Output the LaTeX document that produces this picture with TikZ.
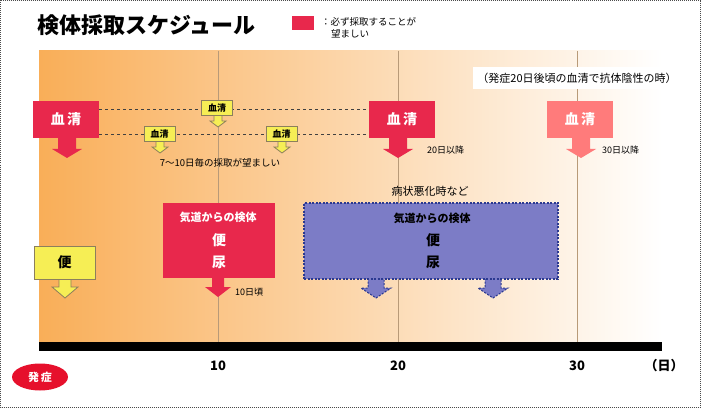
\documentclass[tikz,border=0pt]{standalone}
\usepackage{fontspec}
\setmainfont{Noto Sans CJK JP}
\usetikzlibrary{shapes.geometric}
\definecolor{redc}{HTML}{E8284C}
\definecolor{pinkc}{HTML}{FF7B7B}
\definecolor{yellowc}{HTML}{F6EE55}
\definecolor{yborder}{HTML}{8C7F5C}
\definecolor{bluefill}{HTML}{7C7CC6}
\definecolor{blueborder}{HTML}{2B3990}
\definecolor{orangeL}{HTML}{F9AE58}
\definecolor{orangeM}{HTML}{FDD8A8}
\definecolor{gridc}{HTML}{B89A78}
\definecolor{hatsured}{HTML}{E6102C}
\newcommand{\dnarrow}[7]{%
  \path[#1] ({#2-#6},#3) -- ({#2-#6},#4) -- ({#2-#7},#4) -- (#2,#5) -- ({#2+#7},#4) -- ({#2+#6},#4) -- ({#2+#6},#3) -- cycle;}
\begin{document}
\begin{tikzpicture}[x=1pt,y=-1pt,
  bigred/.style={fill=redc,text=white,font=\bfseries\fontsize{14}{14}\selectfont,minimum width=66pt,minimum height=37pt,inner sep=0pt},
  bigpink/.style={bigred,fill=pinkc},
  smally/.style={fill=yellowc,draw=yborder,line width=1pt,font=\bfseries\fontsize{9}{9}\selectfont,minimum width=31pt,minimum height=15pt,inner sep=0pt},
  yarr/.style={fill=yellowc,draw=yborder,line width=0.8pt},
  rarr/.style={fill=redc},
  parr/.style={fill=pinkc},
  barr/.style={fill=bluefill,draw=blueborder,line width=1pt,dash pattern=on 2pt off 1.5pt},
  note/.style={font=\fontsize{9}{9}\selectfont,text=black,inner sep=0pt},
  gridline/.style={draw=gridc,line width=0.7pt},
  dotline/.style={draw=black!75,line width=0.9pt,dash pattern=on 3pt off 3pt},
  daylabel/.style={font=\bfseries\fontsize{13}{13}\selectfont,inner sep=0pt}
]
\useasboundingbox (0,0) rectangle (702,409);
\draw[black!70,line width=0.6pt,dash pattern=on 1pt off 1pt] (0.5,0.5) rectangle (700.5,407.5);

% background
\shade[left color=orangeL,middle color=orangeM,right color=white] (39,51) rectangle (662,342);
\foreach \x in {218,398,577} \draw[gridline] (\x,51) -- (\x,342);
\fill[black] (39,342) rectangle (662,351);

% title and legend
\node[anchor=west,inner sep=0pt,font=\bfseries\fontsize{22}{22}\selectfont] (title) at (37,25) {検体採取スケジュール};
\node[fill=redc,minimum width=22pt,minimum height=14pt,inner sep=0pt] (leg) at (303,23) {};
\node[anchor=west,inner sep=0pt,font=\fontsize{9.5}{9.5}\selectfont] (legt1) at (321,22) {：必ず採取することが};
\node[anchor=west,inner sep=0pt,font=\fontsize{9.5}{9.5}\selectfont] (legt2) at (331,34) {望ましい};

\node[fill=white,inner xsep=4pt,inner ysep=6pt,font=\fontsize{11}{11}\selectfont] (cond) at (577,78) {（発症20日後頃の血清で抗体陰性の時）};

% arrows (drawn under boxes)
\dnarrow{rarr}{67}{136}{149}{158}{9}{15}
\dnarrow{rarr}{398}{136}{149}{158}{9}{15}
\dnarrow{parr}{581}{136}{149}{158}{9}{15}
\dnarrow{yarr}{218}{114}{121}{127}{4}{8}
\dnarrow{yarr}{160}{140}{147}{153}{4}{8}
\dnarrow{yarr}{282}{140}{147}{153}{4}{8}
\dnarrow{yarr}{65}{277}{287}{298}{6}{13}
\dnarrow{rarr}{218}{276}{287}{297}{6}{13}
\dnarrow{barr}{376}{278}{288}{298}{8}{15}
\dnarrow{barr}{493}{278}{288}{298}{8}{15}

% serum row
\node[bigred] (s1) at (66,119.5) {血\,清};
\node[bigred] (s2) at (402,119.5) {血\,清};
\node[bigpink] (s3) at (580,119.5) {血\,清};
\coordinate (d1) at (0,109);
\coordinate (d2) at (0,134);
\draw[dotline] (s1.east |- d1) -- (s2.west |- d1);
\draw[dotline] (s1.east |- d2) -- (s2.west |- d2);
\node[smally] (y1) at (217,108.5) {血清};
\node[smally] (y2) at (159.5,134.5) {血清};
\node[smally] (y3) at (281.5,134.5) {血清};
\node[note,font=\fontsize{9.5}{9.5}\selectfont] (n710) at (220,163) {7〜10日毎の採取が望ましい};
\node[note,anchor=west] (n20) at (427,150) {20日以降};
\node[note,anchor=west] (n30) at (602,150) {30日以降};

% lower row
\node[fill=yellowc,draw=yborder,line width=1pt,minimum width=61pt,minimum height=33pt,inner sep=0pt,font=\bfseries\fontsize{14}{14}\selectfont] (ben) at (64.5,262.5) {便};
\node[fill=redc,minimum width=112pt,minimum height=75pt,inner sep=0pt] (rbox) at (219,240.5) {};
\node[text=white,font=\bfseries\fontsize{11}{11}\selectfont,inner sep=0pt] (rt1) at (218,217) {気道からの検体};
\node[text=white,font=\bfseries\fontsize{14}{14}\selectfont,inner sep=0pt] (rt2) at (219,240) {便};
\node[text=white,font=\bfseries\fontsize{14}{14}\selectfont,inner sep=0pt] (rt3) at (219,262) {尿};
\node[note,anchor=west] (n10) at (235,292) {10日頃};

\node[fill=bluefill,draw=blueborder,line width=1.1pt,dash pattern=on 2pt off 1.5pt,minimum width=254pt,minimum height=76pt,inner sep=0pt] (bbox) at (431,241) {};
\node[font=\bfseries\fontsize{11}{11}\selectfont,inner sep=0pt] (bt1) at (432,218) {気道からの検体};
\node[font=\bfseries\fontsize{14}{14}\selectfont,inner sep=0pt] (bt2) at (433,240) {便};
\node[font=\bfseries\fontsize{14}{14}\selectfont,inner sep=0pt] (bt3) at (433,262) {尿};
\node[font=\fontsize{11}{11}\selectfont,inner sep=0pt] (sev) at (430,191) {病状悪化時など};

% axis
\node[daylabel] (t10) at (218,366) {10};
\node[daylabel] (t20) at (398,366) {20};
\node[daylabel] (t30) at (577,366) {30};
\node[daylabel] (tday) at (664,366) {（日）};
\node[ellipse,fill=hatsured,text=white,minimum width=56pt,minimum height=27pt,inner sep=0pt,font=\bfseries\fontsize{11}{11}\selectfont] (onset) at (40,377) {発\,症};
\end{tikzpicture}
\end{document}
